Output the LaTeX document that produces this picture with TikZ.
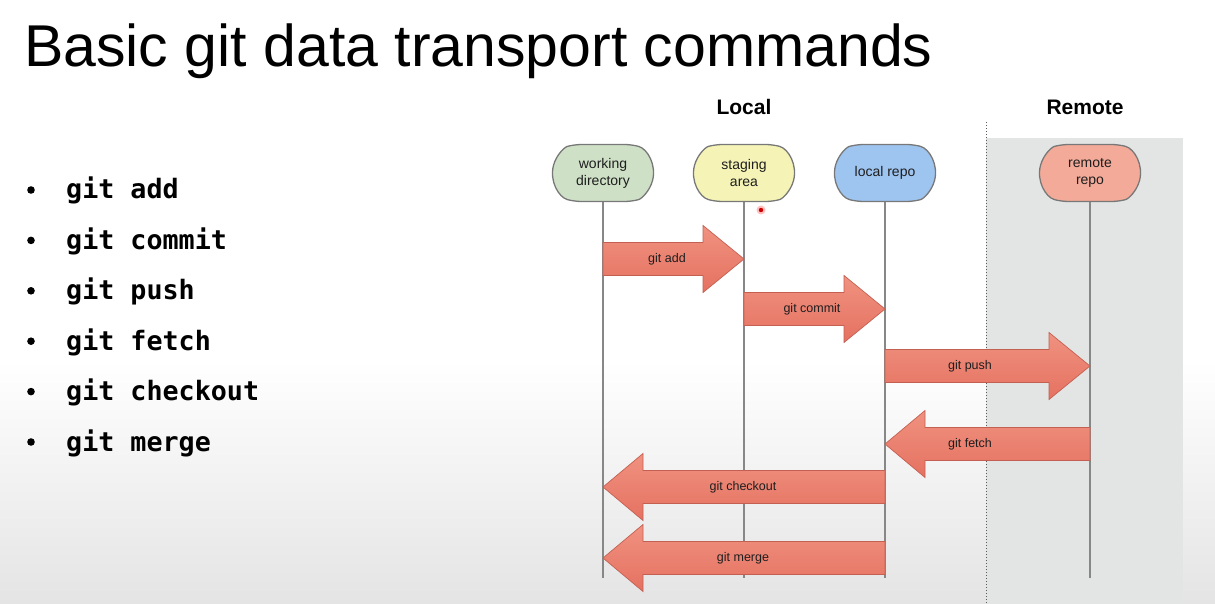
\documentclass[tikz,border=0pt]{standalone}
\usepackage{fontspec}
\setmainfont{Liberation Sans}
\newfontfamily\codefont{DejaVu Sans Mono}
\usetikzlibrary{shapes.misc,calc}

\definecolor{wdfill}{RGB}{206,224,198}
\definecolor{safill}{RGB}{245,244,182}
\definecolor{lrfill}{RGB}{158,196,240}
\definecolor{rrfill}{RGB}{243,170,152}
\definecolor{stageedge}{RGB}{120,120,120}
\definecolor{lifegray}{RGB}{135,135,135}
\definecolor{remotepanel}{RGB}{226,229,227}
\definecolor{bggray}{RGB}{228,228,228}
\definecolor{arrowtop}{RGB}{240,146,128}
\definecolor{arrowbot}{RGB}{229,113,97}
\definecolor{arrowedge}{RGB}{196,96,82}
\definecolor{labelink}{RGB}{30,30,30}

% block arrow between two lifeline points: tail, tip, head-back offset, label node name, label x, label text
\newcommand\blockarrow[6]{%
  \draw[transfer] ($(#1)+(0,-16.5)$) -- ($(#2)+(#3,-16.5)$) -- ($(#2)+(#3,-33.5)$)
    -- (#2) -- ($(#2)+(#3,33.5)$) -- ($(#2)+(#3,16.5)$) -- ($(#1)+(0,16.5)$) -- cycle;
  \node[flowlabel] (#4) at (#5,0 |- #2) {#6};
}

\begin{document}
\begin{tikzpicture}[x=1pt,y=-1pt,
  stage/.style={rounded rectangle, rounded rectangle arc length=150, rounded corners=7pt,
    minimum width=101, minimum height=57, inner sep=0pt, draw=stageedge,
    line width=1.3pt, align=center, text=labelink, font=\fontsize{14}{17}\selectfont},
  lifeline/.style={draw=lifegray, line width=1.6pt},
  transfer/.style={top color=arrowtop, bottom color=arrowbot, draw=arrowedge,
    line width=0.7pt, line join=miter},
  flowlabel/.style={inner sep=0pt, text=labelink, font=\fontsize{12.5}{14}\selectfont},
  zone/.style={inner sep=0pt, font=\fontsize{21}{24}\selectfont\bfseries},
  cmd/.style={inner sep=0pt, anchor=base west, font=\codefont\bfseries\fontsize{26.7}{30}\selectfont},
]
\useasboundingbox (0,0) rectangle (1215,604);

% page background with a soft grey fade toward the bottom
\fill[white] (0,0) rectangle (1215,604);
\shade[top color=white, bottom color=bggray] (0,360) rectangle (1215,604);

% remote side panel and divider
\fill[remotepanel] (986,138) rectangle (1183,604);
\draw[dotted, line width=1pt, black!65] (986,122) -- (986,604);

% title
\node[anchor=base west, inner sep=0pt, font=\fontsize{59}{62}\selectfont] (title) at (24,67)
  {Basic git data transport commands};

% command list
\foreach \c [count=\i from 0] in {add,commit,push,fetch,checkout,merge} {
  \fill (31,{190+50.4*\i}) circle (3.8);
  \node[cmd] (cmd\i) at (66,{199+50.4*\i}) {git \c};
}

% zone headings
\node[zone] (local) at (744,107) {Local};
\node[zone] (remote) at (1085,107) {Remote};

% storage locations
\node[stage, fill=wdfill] (wd) at (603,173) {working\\directory};
\node[stage, fill=safill] (sa) at (744,173) {staging\\area};
\node[stage, fill=lrfill] (lr) at (885,173) {local repo};
\node[stage, fill=rrfill] (rr) at (1090,173) {remote\\repo};

% lifelines
\foreach \n in {wd,sa,lr,rr} {
  \coordinate (\n-end) at (\n.south |- 0,578);
  \draw[lifeline] (\n.south) -- (\n-end);
}

% pointer mark
\fill[red!25] (761,210) circle (4.5);
\fill[red!80!black] (761,210) circle (2.2);

% transfer points on the lifelines
\coordinate (addT) at (wd.south |- 0,259);   \coordinate (addP) at (sa.south |- 0,259);
\coordinate (comT) at (sa.south |- 0,309);   \coordinate (comP) at (lr.south |- 0,309);
\coordinate (pushT) at (lr.south |- 0,366);  \coordinate (pushP) at (rr.south |- 0,366);
\coordinate (fetT) at (rr.south |- 0,444);   \coordinate (fetP) at (lr.south |- 0,444);
\coordinate (coT) at (lr.south |- 0,487);    \coordinate (coP) at (wd.south |- 0,487);
\coordinate (merT) at (lr.south |- 0,558);   \coordinate (merP) at (wd.south |- 0,558);

\blockarrow{addT}{addP}{-41}{lbladd}{667}{git add}
\blockarrow{comT}{comP}{-41}{lblcommit}{812}{git commit}
\blockarrow{pushT}{pushP}{-41}{lblpush}{970}{git push}
\blockarrow{fetT}{fetP}{40}{lblfetch}{970}{git fetch}
\blockarrow{coT}{coP}{40}{lblcheckout}{743}{git checkout}
\blockarrow{merT}{merP}{40}{lblmerge}{743}{git merge}
\end{tikzpicture}
\end{document}
